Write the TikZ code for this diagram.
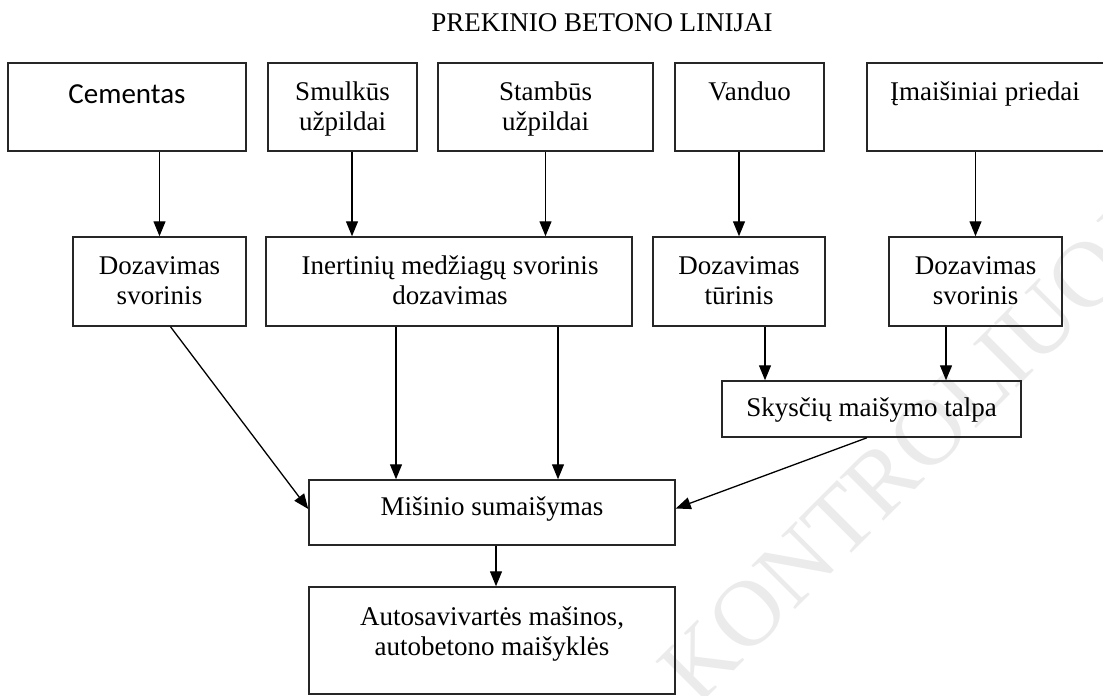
\documentclass[tikz,border=0pt]{standalone}
\usepackage{fontspec}
\setmainfont{Liberation Serif}
\newfontfamily\calib{Carlito}
\usetikzlibrary{arrows.meta}
\tikzset{
  box/.style={draw=black!85, line width=1.5pt, inner sep=0pt},
  lbl/.style={font=\fontsize{27}{30}\selectfont, align=center, inner sep=0pt},
  arr/.style={draw=black, line width=1.3pt, -{Triangle[length=15pt,width=12pt]}},
  wmark/.style={font=\fontsize{94}{100}\selectfont, text=black!8, inner sep=0pt}
}
\begin{document}
\begin{tikzpicture}[x=1pt,y=-1pt]
\useasboundingbox (0,0) rectangle (1103,696);
\clip (0,0) rectangle (1103,696);
% watermark
\node[wmark, rotate=45, anchor=base west] (wm) at (697,708) {KONTROLIUOJAMA};
% title
\node[lbl, anchor=base] (title) at (602,31) {PREKINIO BETONO LINIJAI};
% top row boxes
\node[box, minimum width=238pt, minimum height=88pt] (cem) at (127,107) {};
\node[box, minimum width=149pt, minimum height=88pt] (smu) at (342.5,107) {};
\node[box, minimum width=215pt, minimum height=88pt] (stam) at (545.5,107) {};
\node[box, minimum width=149pt, minimum height=88pt] (van) at (749.5,107) {};
\node[box, minimum width=237pt, minimum height=88pt] (ima) at (985.5,107) {};
\node[lbl, anchor=base, font=\calib\fontsize{29}{32}\selectfont] (cemT) at (127,103) {Cementas};
\node[lbl, anchor=north] (smuT) at (342.5,79) {\strut Smulkūs\\\strut užpildai};
\node[lbl, anchor=north] (stamT) at (545.5,79) {\strut Stambūs\\\strut užpildai};
\node[lbl, anchor=base] (vanT) at (749.5,100) {Vanduo};
\node[lbl, anchor=base] (imaT) at (985,100) {Įmaišiniai priedai};
% second row boxes
\node[box, minimum width=173pt, minimum height=89pt] (dozA) at (159.5,281.5) {};
\node[box, minimum width=366pt, minimum height=89pt] (inert) at (449,281.5) {};
\node[box, minimum width=172pt, minimum height=89pt] (dozC) at (739,281.5) {};
\node[box, minimum width=173pt, minimum height=89pt] (dozD) at (975.5,281.5) {};
\node[lbl, anchor=north] (dozAT) at (159.5,253) {\strut Dozavimas\\\strut svorinis};
\node[lbl, anchor=north] (inertT) at (450,253) {\strut Inertinių medžiagų svorinis\\\strut dozavimas};
\node[lbl, anchor=north] (dozCT) at (739,253) {\strut Dozavimas\\\strut tūrinis};
\node[lbl, anchor=north] (dozDT) at (975.5,253) {\strut Dozavimas\\\strut svorinis};
% liquid tank
\node[box, minimum width=299pt, minimum height=56pt] (sky) at (871.5,409) {};
\node[lbl, anchor=base] (skyT) at (871.5,416) {Skysčių maišymo talpa};
% mixing
\node[box, minimum width=366pt, minimum height=65pt] (mis) at (492,512.5) {};
\node[lbl, anchor=base] (misT) at (492,515) {Mišinio sumaišymas};
% trucks
\node[box, minimum width=366pt, minimum height=107pt] (auto) at (492,640.5) {};
\node[lbl, anchor=north] (autoT) at (492,604) {\strut Autosavivartės mašinos,\\\strut autobetono maišyklės};
% connectors
\draw[arr] (cem.south -| dozA.north) -- (dozA.north);
\draw[arr] ([xshift=9.5pt]smu.south) -- ([xshift=9.5pt]smu.south |- inert.north);
\draw[arr] (stam.south) -- (stam.south |- inert.north);
\draw[arr] (van.south -| dozC.north) -- (dozC.north);
\draw[arr] (ima.south -| dozD.north) -- (dozD.north);
\draw[arr] ([xshift=11pt]dozA.south) -- ([yshift=3.5pt]mis.west);
\draw[arr] (inert.south -| 396,0) -- (mis.north -| 396,0);
\draw[arr] (inert.south -| 558,0) -- (mis.north -| 558,0);
\draw[arr] (dozC.south -| 765,0) -- (sky.north -| 765,0);
\draw[arr] (dozD.south -| 946,0) -- (sky.north -| 946,0);
\draw[arr] ([xshift=-4.5pt]sky.south) -- ([yshift=4pt]mis.east);
\draw[arr] ([xshift=4pt]mis.south) -- ([xshift=4pt]mis.south |- auto.north);
\end{tikzpicture}
\end{document}
